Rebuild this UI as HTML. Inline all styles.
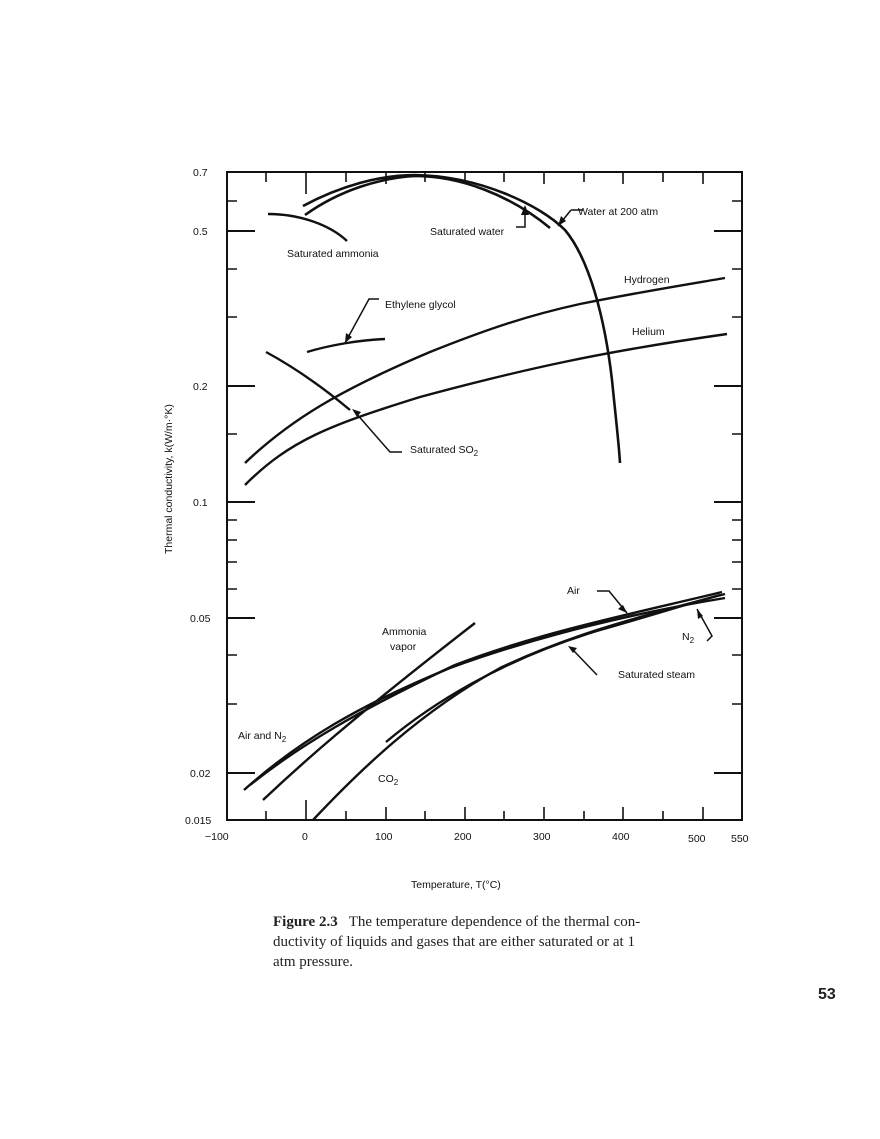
<!DOCTYPE html>
<html><head><meta charset="utf-8"><style>
body{margin:0;background:#fff;width:880px;height:1139px;overflow:hidden;position:relative}
.cap{position:absolute;left:273px;top:912px;width:420px;font:15px/20px "Liberation Serif",serif;color:#222;white-space:nowrap}
.pg{position:absolute;left:818px;top:986px;font:bold 16px "Liberation Sans",sans-serif;color:#222}
</style></head><body>
<svg width="880" height="1139" style="position:absolute;left:0;top:0" font-family="Liberation Sans, sans-serif" font-size="10.5" fill="#111">
<g stroke="#111" fill="none" stroke-width="2">
<rect x="227" y="172" width="515" height="648"/>
<path d="M227 231h28M227 386h28M227 502h28M227 618h28M227 773h28
M742 231h-28M742 386h-28M742 502h-28M742 618h-28M742 773h-28"/>
<path stroke-width="1.6" d="M227 201h10M227 269h10M227 317h10M227 434h10M227 520h10M227 540h10M227 562h10M227 589h10M227 655h10M227 704h10
M742 201h-10M742 269h-10M742 317h-10M742 434h-10M742 520h-10M742 540h-10M742 562h-10M742 589h-10M742 655h-10M742 704h-10
M266 172v10M306 172v22M346 172v10M386 172v12M425 172v10M465 172v12M504 172v10M544 172v12M584 172v10M623 172v12M663 172v10M703 172v12
M266 820v-9M306 820v-20M346 820v-9M386 820v-13M425 820v-9M465 820v-13M504 820v-9M544 820v-13M584 820v-9M623 820v-13M663 820v-9M703 820v-13"/>
<path stroke-width="2.6" d="M305 215C340 190 380 178 415 176C460 176 510 195 550 228"/>
<path stroke-width="2.6" d="M303 206C340 186 380 175 415 175C480 176 540 205 565 230C590 260 605 320 612 380C616 420 619 445 620 463"/>
<path stroke-width="2.4" d="M268 214C300 214 330 225 347 241"/>
<path stroke-width="2.4" d="M307 352C330 345 360 340 385 339"/>
<path stroke-width="2.4" d="M245 463C290 420 340 390 430 352C490 328 530 315 580 304C640 292 690 284 725 278"/>
<path stroke-width="2.4" d="M245 485C290 440 330 425 420 397C520 370 600 352 727 334"/>
<path stroke-width="2.4" d="M266 352C290 365 320 385 350 410"/>
<path stroke-width="2.4" d="M244 790C300 740 360 705 450 668C540 635 640 612 725 598"/>
<path stroke-width="2.4" d="M250 785C300 745 360 710 455 665C540 632 640 612 722 592"/>
<path stroke-width="2.4" d="M386 742C430 705 500 660 600 630C660 613 700 600 725 594"/>
<path stroke-width="2.4" d="M263 800C300 765 350 720 475 623"/>
<path stroke-width="2.4" d="M313 820C360 770 420 712 500 668C580 630 660 612 720 595"/>
<path stroke-width="1.5" d="M516 227h9v-20M571 210h12M558 226l13-16M345 343l24-44h10M355 412l35 40h12M597 591h12l18 22M707 641l5-5-15-27M597 675l-23-24"/>
</g>
<g stroke="none" fill="#111">
<path d="M525 205l-4 10h8z"/><path d="M558 226l3-10 5 5z"/><path d="M345 343l1-10 6 4z"/><path d="M352 409l9 3-4 5z"/><path d="M627 613l-9-4 5-4z"/><path d="M697 609l1 10 5-3z"/><path d="M568 646l9 2-4 5z"/>
</g>
<text x="193" y="176">0.7</text><text x="193" y="235">0.5</text><text x="193" y="390">0.2</text><text x="193" y="506">0.1</text><text x="190" y="622">0.05</text><text x="190" y="777">0.02</text><text x="185" y="824">0.015</text>
<text x="205" y="840">−100</text><text x="302" y="840">0</text><text x="375" y="840">100</text><text x="454" y="840">200</text><text x="533" y="840">300</text><text x="612" y="840">400</text><text x="688" y="842">500</text><text x="731" y="842">550</text>
<text x="411" y="888">Temperature, T(°C)</text>
<text transform="translate(172,554) rotate(-90)">Thermal conductivity, k(W/m·°K)</text>
<text x="578" y="215">Water at 200 atm</text><text x="430" y="235">Saturated water</text><text x="287" y="257">Saturated ammonia</text>
<text x="624" y="283">Hydrogen</text><text x="385" y="308">Ethylene glycol</text><text x="632" y="335">Helium</text>
<text x="410" y="453">Saturated SO<tspan font-size="8" dy="3">2</tspan></text>
<text x="567" y="594">Air</text><text x="682" y="640">N<tspan font-size="8" dy="3">2</tspan></text>
<text x="382" y="635">Ammonia</text><text x="390" y="650">vapor</text><text x="618" y="678">Saturated steam</text>
<text x="238" y="739">Air and N<tspan font-size="8" dy="3">2</tspan></text><text x="378" y="782">CO<tspan font-size="8" dy="3">2</tspan></text>
</svg>
<div class="cap"><b>Figure 2.3</b>&nbsp;&nbsp; The temperature dependence of the thermal con-<br>ductivity of liquids and gases that are either saturated or at 1<br>atm pressure.</div>
<div class="pg">53</div>
</body></html>
